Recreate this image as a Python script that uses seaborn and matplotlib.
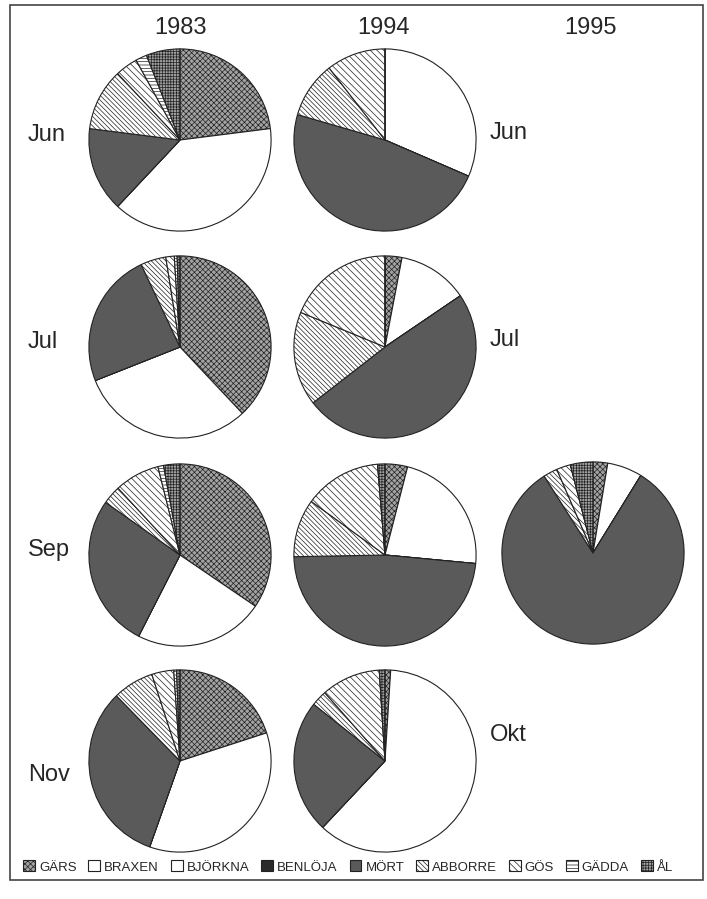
import matplotlib.pyplot as plt
from matplotlib.patches import Patch, Rectangle
import seaborn as sns

W, H = 707, 899

species = ["GÄRS", "BRAXEN", "BJÖRKNA", "BENLÖJA", "MÖRT", "ABBORRE", "GÖS", "GÄDDA", "ÅL"]
years = ["1983", "1994", "1995"]

# percent of catch, same order as species
jun_1983 = [23.0, 39.0, 0.0, 0.0, 15.0, 11.0, 4.0, 2.0, 6.0]
jun_1994 = [0.0, 31.5, 0.0, 0.0, 48.0, 10.0, 10.5, 0.0, 0.0]
jul_1983 = [38.0, 31.0, 0.0, 0.0, 24.0, 4.5, 1.5, 0.5, 0.5]
jul_1994 = [3.0, 12.5, 0.0, 0.0, 49.0, 16.7, 18.8, 0.0, 0.0]
sep_1983 = [34.5, 23.0, 0.0, 0.0, 27.3, 3.3, 8.0, 1.0, 2.9]
sep_1994 = [4.0, 22.5, 0.0, 0.0, 48.2, 10.3, 13.7, 0.0, 1.3]
sep_1995 = [2.6, 6.2, 0.0, 0.0, 82.2, 2.5, 2.5, 0.0, 4.0]
nov_1983 = [20.0, 35.4, 0.0, 0.0, 32.3, 7.3, 3.9, 0.5, 0.6]
okt_1994 = [1.0, 61.0, 0.0, 0.0, 23.7, 2.8, 10.5, 0.0, 1.0]

# (values, left label, right label, centre x, centre y) in pixels
pies = [
    (jun_1983, "Jun", None, 180, 140),
    (jun_1994, None, "Jun", 385, 140),
    (jul_1983, "Jul", None, 180, 347),
    (jul_1994, None, "Jul", 385, 347),
    (sep_1983, "Sep", None, 180, 555),
    (sep_1994, None, None, 385, 555),
    (sep_1995, None, None, 593, 553),
    (nov_1983, "Nov", None, 180, 761),
    (okt_1994, None, "Okt", 385, 761),
]
year_x = [180, 383, 590]

face = ["#a3a3a3", "white", "white", "#2a2a2a", "#5a5a5a", "white", "white", "white", "#a0a0a0"]
hatch = ["xxxxxx", None, None, None, None, "\\\\\\\\\\\\\\", "\\\\\\\\\\", "-----", "++++++"]

sns.set_theme(style="white")
plt.rcParams["font.family"] = ["Liberation Sans", "DejaVu Sans"]
plt.rcParams["hatch.linewidth"] = 0.5

fig = plt.figure(figsize=(W / 100, H / 100), dpi=100)
R = 92


def fx(x):
    return x / W


def fy(y):
    return 1 - y / H


for vals, left, right, cx, cy in pies:
    ax = fig.add_axes([fx(cx - R), fy(cy + R), 2 * R / W, 2 * R / H])
    wedges, _ = ax.pie(vals, colors=face, startangle=90, counterclock=False,
                       wedgeprops=dict(edgecolor="#222222", linewidth=0.8))
    for w, h in zip(wedges, hatch):
        if h:
            w.set_hatch(h)
    ax.set_aspect("equal")
    ax.set_xlim(-1.01, 1.01)
    ax.set_ylim(-1.01, 1.01)
    ax.axis("off")
    if left:
        fig.text(fx(28), fy(cy - 5 if left != "Nov" else cy + 14), left, fontsize=17,
                 ha="left", va="center")
    if right:
        fig.text(fx(490), fy(cy - 7 if right != "Okt" else cy - 26), right, fontsize=17,
                 ha="left", va="center")

for yr, x in zip(years, year_x):
    fig.text(fx(x), fy(28), yr, fontsize=17, ha="center", va="center")

handles = [Patch(facecolor=f, edgecolor="#222222", hatch=h, linewidth=0.8)
           for f, h in zip(face, hatch)]
fig.legend(handles, species, loc="center", bbox_to_anchor=(fx(348), fy(867)), ncol=9,
           frameon=False, handlelength=0.9, handleheight=0.9, handletextpad=0.3,
           columnspacing=0.9, prop=dict(size=9.5))

fig.patches.append(Rectangle((fx(10), fy(880)), fx(703) - fx(10), fy(5) - fy(880),
                             transform=fig.transFigure, fill=False, edgecolor="#444444",
                             linewidth=1.2))

fig.savefig("out.png", dpi=100)
